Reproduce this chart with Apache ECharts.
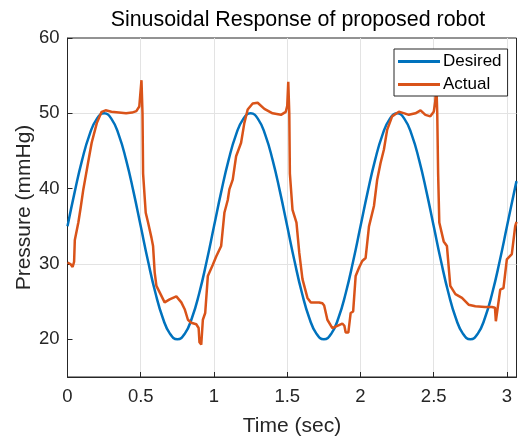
<!DOCTYPE html>
<html>
<head>
<meta charset="utf-8">
<script src="https://cdn.jsdelivr.net/npm/echarts@6/dist/echarts.min.js"></script>
<style>html,body{margin:0;padding:0;background:#fff;}#c{width:519px;height:437px;}</style>
</head>
<body>
<div id="c"></div>
<script>
const titleText = 'Sinusoidal Response of proposed robot';
const xName = 'Time (sec)';
const yName = 'Pressure (mmHg)';
const xTicks = [0, 0.5, 1, 1.5, 2, 2.5, 3];
const yTicks = [20, 30, 40, 50, 60];

const desiredTime = [0,0.05,0.1,0.15,0.2,0.25,0.3,0.35,0.4,0.45,0.5,0.55,0.6,0.65,0.7,0.75,0.8,0.85,0.9,0.95,
  1,1.05,1.1,1.15,1.2,1.25,1.3,1.35,1.4,1.45,1.5,1.55,1.6,1.65,1.7,1.75,1.8,1.85,1.9,1.95,
  2,2.05,2.1,2.15,2.2,2.25,2.3,2.35,2.4,2.45,2.5,2.55,2.6,2.65,2.7,2.75,2.8,2.85,2.9,2.95,
  3,3.05,3.065];
const desiredPressure = [35,39.64,43.82,47.14,49.27,50,49.27,47.14,43.82,39.64,35,30.36,26.18,22.86,20.73,20,20.73,22.86,26.18,30.36,
  35,39.64,43.82,47.14,49.27,50,49.27,47.14,43.82,39.64,35,30.36,26.18,22.86,20.73,20,20.73,22.86,26.18,30.36,
  35,39.64,43.82,47.14,49.27,50,49.27,47.14,43.82,39.64,35,30.36,26.18,22.86,20.73,20,20.73,22.86,26.18,30.36,
  35,39.64,41.0];

const actualTime = [0,0.02,0.035,0.045,0.05,0.074,0.09,0.108,0.12,0.14,0.165,0.2,0.233,0.26,0.3,0.35,0.4,0.44,0.47,0.49,0.505,0.512,0.516,
  0.534,0.55,0.573,0.584,0.595,0.607,0.63,0.663,0.697,0.743,0.777,0.8,0.822,0.845,0.879,0.895,0.901,0.913,0.924,0.94,0.958,0.992,
  1.015,1.049,1.071,1.094,1.105,1.128,1.151,1.185,1.207,1.23,1.264,1.298,1.344,1.4,1.457,1.49,1.5,1.507,1.514,1.518,
  1.536,1.563,1.582,1.604,1.638,1.661,1.718,1.74,1.752,1.774,1.808,1.842,1.876,1.89,1.899,1.917,1.933,1.95,1.967,1.99,
  2.012,2.035,2.058,2.092,2.114,2.137,2.16,2.182,2.216,2.262,2.3,2.33,2.375,2.41,2.443,2.477,2.5,2.51,2.518,2.524,2.53,
  2.538,2.568,2.59,2.613,2.648,2.693,2.738,2.784,2.85,2.897,2.918,2.924,2.937,2.954,2.976,2.999,3.033,3.056,3.065];
const actualPressure = [30.2,30.0,29.6,30.3,33.2,35.5,37.5,39.9,41.2,43.4,46.1,48.7,50.2,50.4,50.2,50.1,50.0,50.1,50.3,50.9,54.4,50.0,42.0,
  36.8,35.5,33.5,32.4,28.9,27.1,26.2,24.9,25.3,25.7,24.9,24.0,22.6,22.2,22.0,21.5,19.6,19.3,22.6,23.5,28.4,29.9,
  31.0,32.4,36.8,38.5,39.9,41.2,44.3,46.1,48.7,50.5,51.3,51.4,50.6,50.0,49.8,50.2,51.0,54.2,50.0,42.0,
  37.2,35.5,31.5,28.0,25.5,24.9,24.9,24.8,24.5,22.6,21.5,21.8,22.1,21.8,20.9,20.9,23.5,23.7,28.4,29.5,
  30.4,30.8,35.0,37.7,41.2,43.4,45.2,47.8,49.6,50.2,50.0,49.8,50.0,50.4,49.8,49.6,50.2,51.5,53.8,50.0,42.0,
  35.5,33.0,32.4,27.1,26.0,25.5,24.6,24.4,24.3,24.3,24.2,22.4,22.3,26.6,26.8,30.6,31.3,35.0,35.6];

const zip = (a, b) => a.map((v, i) => [v, b[i]]);
const FONT = 'Liberation Sans, Arial, Helvetica, sans-serif';
const TXT = '#262626';

const chart = echarts.init(document.getElementById('c'), null, {renderer: 'canvas'});
chart.setOption({
  animation: false,
  backgroundColor: '#fff',
  title: {
    text: titleText, left: 293, top: 5, textAlign: 'center',
    textStyle: {fontFamily: FONT, fontSize: 21.4, fontWeight: 'normal', color: '#000'}
  },
  grid: {left: 67.5, right: 2.5, top: 38, bottom: 60, show: true, borderColor: TXT, borderWidth: 1,
    backgroundColor: 'transparent', outerBoundsMode: 'none', containLabel: false},
  legend: {
    orient: 'vertical', left: 394, top: 49,
    data: [{name: 'Desired', icon: 'rect'}, {name: 'Actual', icon: 'rect'}],
    itemWidth: 42, itemHeight: 3, itemGap: 6,
    padding: [4, 6, 3, 4],
    backgroundColor: '#fff', borderColor: TXT, borderWidth: 1, borderRadius: 0,
    textStyle: {fontFamily: FONT, fontSize: 17, color: '#000', padding: [0, 0, 0, -2]}
  },
  xAxis: {
    type: 'value', min: 0, max: 3.065, interval: 0.5,
    name: xName, nameLocation: 'middle', nameGap: 39, nameMoveOverlap: false,
    nameTextStyle: {fontFamily: FONT, fontSize: 21, color: TXT},
    axisLine: {show: true, lineStyle: {color: TXT, width: 1}},
    axisTick: {show: true, inside: true, length: 5, lineStyle: {color: TXT}, customValues: xTicks},
    axisLabel: {fontFamily: FONT, fontSize: 18.5, color: TXT, margin: 10, customValues: xTicks,
      formatter: v => String(v)},
    splitLine: {show: true, lineStyle: {color: '#e3e3e3', width: 1}}
  },
  yAxis: {
    type: 'value', min: 15, max: 60, interval: 5,
    name: yName, nameLocation: 'middle', nameGap: 33, nameMoveOverlap: false,
    nameTextStyle: {fontFamily: FONT, fontSize: 21, color: TXT},
    axisLine: {show: true, lineStyle: {color: TXT, width: 1}},
    axisTick: {show: true, inside: true, length: 5, lineStyle: {color: TXT}, customValues: yTicks},
    axisLabel: {fontFamily: FONT, fontSize: 18.5, color: TXT, margin: 8, customValues: yTicks,
      formatter: v => String(v)},
    splitLine: {show: true, lineStyle: {color: ['transparent', '#e3e3e3'], width: 1}}
  },
  series: [
    {name: 'Desired', type: 'line', data: zip(desiredTime, desiredPressure), smooth: true, showSymbol: false,
      color: '#0072BD', lineStyle: {width: 2.5, color: '#0072BD'}, z: 2},
    {name: 'Actual', type: 'line', data: zip(actualTime, actualPressure), showSymbol: false,
      color: '#D95319', lineStyle: {width: 2.5, color: '#D95319'}, z: 3}
  ]
});
</script>
</body>
</html>
